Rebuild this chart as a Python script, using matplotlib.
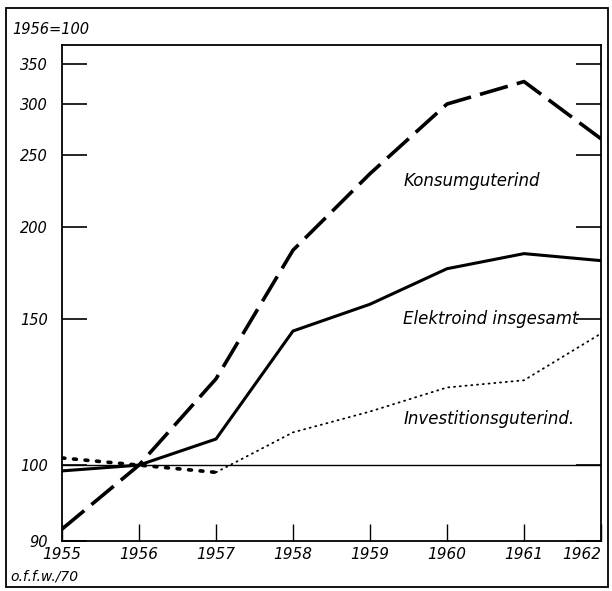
import matplotlib.pyplot as plt
from matplotlib.patches import Rectangle
from matplotlib.transforms import ScaledTranslation
import numpy as np

# data (index 1956 = 100)
years = [1955, 1956, 1957, 1958, 1959, 1960, 1961, 1962]
konsum = [91.5, 100, 127, 186, 236, 300, 327, 265]
elektro = [99.2, 100, 107.5, 145, 157, 175.5, 184, 180]
invest = [102, 100, 99, 109.5, 116, 124, 126.5, 144]

yticks = [90, 100, 150, 200, 250, 300, 350]
xticks = years

# the hand-drawn y axis is not a clean log scale: map tick values to their
# measured fractions of the axis height and interpolate in log space
scale_vals = np.log([90, 100, 150, 200, 250, 300, 350, 377])
scale_pos = np.array([0, 0.153, 0.448, 0.633, 0.778, 0.881, 0.962, 1.0])


def fwd(v):
    v = np.clip(np.asarray(v, dtype=float), 1e-3, None)
    return np.interp(np.log(v), scale_vals, scale_pos)


def inv(p):
    return np.exp(np.interp(p, scale_pos, scale_vals))


plt.rcParams['font.family'] = ['DejaVu Sans']
fig = plt.figure(figsize=(6.12, 5.91), dpi=100)
ax = fig.add_axes([62 / 612, 50 / 591, 539 / 612, 496 / 591])
ax.set_yscale('function', functions=(fwd, inv))
ax.set_ylim(90, 377)
ax.set_xlim(1955, 1962)

ax.axhline(100, color='black', lw=1.0)

ax.plot(years, konsum, color='black', lw=2.6, dashes=(8, 2.6), solid_capstyle='butt')
ax.plot(years, elektro, color='black', lw=2.2)
ax.plot(years[:3], invest[:3], color='black', lw=2.6, dashes=(0.8, 2.4),
        dash_capstyle='round')
ax.plot(years[2:], invest[2:], color='black', lw=1.3, dashes=(0.6, 2.6),
        dash_capstyle='round')

fs = 12
ax.text(1959.43, 231, 'Konsumguterind', fontsize=fs, style='italic', va='center')
ax.text(1959.43, 150, 'Elektroind insgesamt', fontsize=fs, style='italic', va='center')
ax.text(1959.43, 113.7, 'Investitionsguterind.', fontsize=fs, style='italic', va='center')

ax.set_yticks(yticks)
ax.set_yticklabels([str(t) for t in yticks], fontsize=10.5, style='italic')
ax.yaxis.set_minor_locator(plt.NullLocator())
ax.set_xticks(xticks)
ax.set_xticklabels([str(t) for t in xticks], fontsize=11, style='italic')
last = ax.get_xticklabels()[-1]
last.set_horizontalalignment('right')
last.set_transform(last.get_transform() + ScaledTranslation(0.06, 0, fig.dpi_scale_trans))
ax.tick_params(axis='y', direction='in', length=18, width=1.2, right=True, pad=10)
ax.tick_params(axis='x', direction='in', length=12, width=1.0, pad=4)
for s in ax.spines.values():
    s.set_linewidth(1.3)

fig.text(12 / 612, 1 - 30 / 591, '1956=100', fontsize=10.5, style='italic', va='center')
fig.text(10 / 612, 1 - 577 / 591, 'o.f.f.w./70', fontsize=10, style='italic', va='center')

fig.patches.append(Rectangle((6 / 612, 1 - 587 / 591), 602 / 612, 579 / 591,
                             transform=fig.transFigure, fill=False,
                             edgecolor='black', lw=1.3))

fig.savefig('out.png', dpi=100)
